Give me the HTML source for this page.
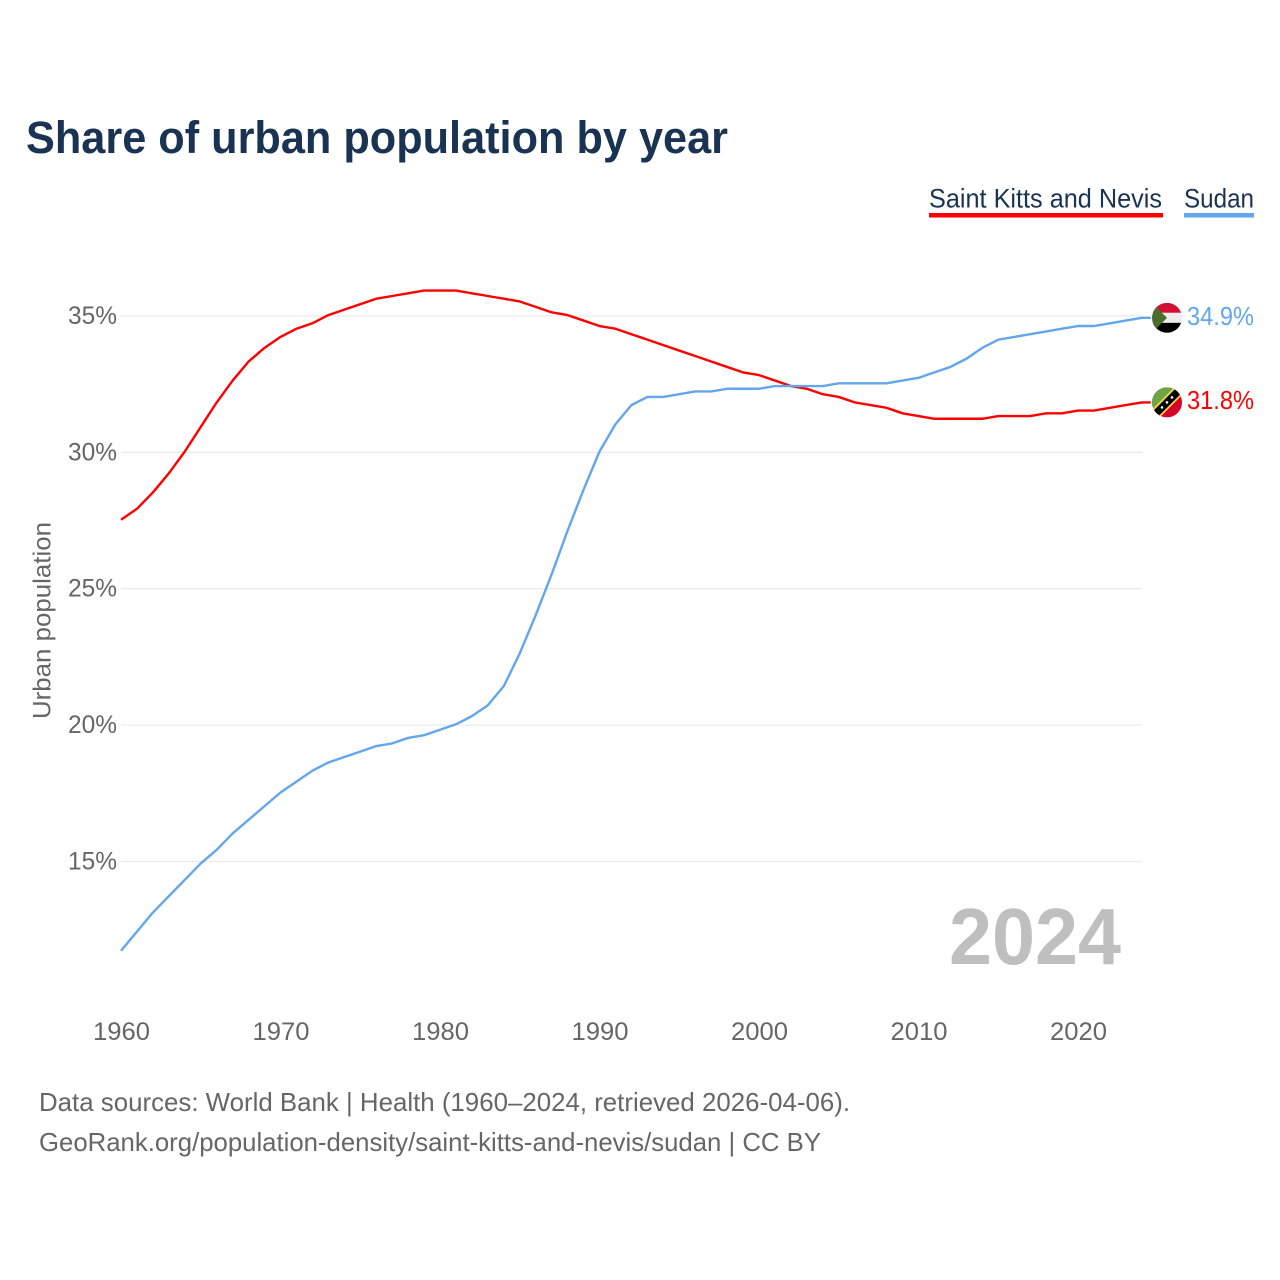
<!DOCTYPE html>
<html lang="en">
<head>
<meta charset="utf-8">
<title>Share of urban population by year</title>
<style>
html,body{margin:0;padding:0;background:#fff;}
svg{display:block;font-family:"Liberation Sans",sans-serif;}
</style>
</head>
<body>
<svg id="chart" xmlns="http://www.w3.org/2000/svg" width="1280" height="1280" viewBox="0 0 1280 1280">
  <defs>
    <clipPath id="flag-clip"><circle cx="0" cy="0" r="15"></circle></clipPath>
  </defs>
  <rect width="1280" height="1280" fill="#ffffff"></rect>
  <text x="26" y="153" font-size="45" font-weight="700" fill="#1a3353" textLength="702" lengthAdjust="spacingAndGlyphs">Share of urban population by year</text>

  <g>
    <g>
      <text x="929" y="207.5" font-size="26.5" fill="#1a3353" textLength="233" lengthAdjust="spacingAndGlyphs">Saint Kitts and Nevis</text>
      <rect x="929" y="213" width="234" height="4.5" fill="#ff0000"></rect>
    </g>
    <g>
      <text x="1184" y="207.5" font-size="26.5" fill="#1a3353" textLength="70" lengthAdjust="spacingAndGlyphs">Sudan</text>
      <rect x="1184" y="213" width="70" height="4.5" fill="#62a6ee"></rect>
    </g>
  </g>

  <g id="grid"></g>
  <g id="y-axis"></g>
  <g id="x-axis"></g>
  <text transform="translate(50.5,719) rotate(-90)" font-size="25" fill="#666666" textLength="197" lengthAdjust="spacingAndGlyphs">Urban population</text>

  <text x="949" y="964" font-size="80" font-weight="700" fill="#bfbfbf" textLength="172" lengthAdjust="spacingAndGlyphs">2024</text>

  <g id="series"></g>

  <g id="flag-sudan">
    <g clip-path="url(#flag-clip)">
      <rect x="-15" y="-15" width="30" height="10" fill="#d21034"></rect>
      <rect x="-15" y="-5" width="30" height="10" fill="#eeeeee"></rect>
      <rect x="-15" y="5" width="30" height="10" fill="#000000"></rect>
      <polygon points="-15,-15 -15,15 0,0" fill="#496e2d"></polygon>
    </g>
  </g>
  <g id="flag-kitts">
    <g clip-path="url(#flag-clip)">
      <rect x="-15" y="-15" width="30" height="30" fill="#d80027"></rect>
      <polygon points="-15,-15 15,-15 -15,15" fill="#6da544"></polygon>
      <line x1="-14" y1="14" x2="14" y2="-14" stroke="#ffda44" stroke-width="11"></line>
      <line x1="-14" y1="14" x2="14" y2="-14" stroke="#000000" stroke-width="7.5"></line>
      <circle cx="-5" cy="5" r="1.3" fill="#ffffff"></circle>
      <circle cx="0" cy="0" r="1.3" fill="#ffffff"></circle>
      <circle cx="5" cy="-5" r="1.3" fill="#ffffff"></circle>
    </g>
  </g>
  <g id="end-labels"></g>

  <g>
    <text x="39" y="1111" font-size="26" fill="#666666" textLength="811" lengthAdjust="spacingAndGlyphs">Data sources: World Bank | Health (1960–2024, retrieved 2026-04-06).</text>
    <text x="39" y="1151" font-size="26" fill="#666666" textLength="782" lengthAdjust="spacingAndGlyphs">GeoRank.org/population-density/saint-kitts-and-nevis/sudan | CC BY</text>
  </g>
</svg>
<script>
var years = [1960,1961,1962,1963,1964,1965,1966,1967,1968,1969,1970,1971,1972,1973,1974,1975,1976,1977,1978,1979,1980,1981,1982,1983,1984,1985,1986,1987,1988,1989,1990,1991,1992,1993,1994,1995,1996,1997,1998,1999,2000,2001,2002,2003,2004,2005,2006,2007,2008,2009,2010,2011,2012,2013,2014,2015,2016,2017,2018,2019,2020,2021,2022,2023,2024];
var saintKittsValues = [27.5,27.9,28.5,29.2,30.0,30.9,31.8,32.6,33.3,33.8,34.2,34.5,34.7,35.0,35.2,35.4,35.6,35.7,35.8,35.9,35.9,35.9,35.8,35.7,35.6,35.5,35.3,35.1,35.0,34.8,34.6,34.5,34.3,34.1,33.9,33.7,33.5,33.3,33.1,32.9,32.8,32.6,32.4,32.3,32.1,32.0,31.8,31.7,31.6,31.4,31.3,31.2,31.2,31.2,31.2,31.3,31.3,31.3,31.4,31.4,31.5,31.5,31.6,31.7,31.8];
var sudanValues = [11.7,12.4,13.1,13.7,14.3,14.9,15.4,16.0,16.5,17.0,17.5,17.9,18.3,18.6,18.8,19.0,19.2,19.3,19.5,19.6,19.8,20.0,20.3,20.7,21.4,22.6,24.0,25.5,27.1,28.6,30.0,31.0,31.7,32.0,32.0,32.1,32.2,32.2,32.3,32.3,32.3,32.4,32.4,32.4,32.4,32.5,32.5,32.5,32.5,32.6,32.7,32.9,33.1,33.4,33.8,34.1,34.2,34.3,34.4,34.5,34.6,34.6,34.7,34.8,34.9];
var yTicks = [15,20,25,30,35];
var xTicks = [1960,1970,1980,1990,2000,2010,2020];

var NS = 'http://www.w3.org/2000/svg';
function xScale(year){ return 121 + (year - 1960) * 15.95; }
function yScale(v){ return 861.5 - (v - 15) * 27.28; }
function markY(v){ return yScale(v) - 0.8; }

function makeText(parent, x, y, anchor, size, fill, str, len){
  var t = document.createElementNS(NS, 'text');
  t.setAttribute('x', x);
  t.setAttribute('y', y);
  t.setAttribute('text-anchor', anchor);
  t.setAttribute('font-size', size);
  t.setAttribute('fill', fill);
  t.setAttribute('textLength', len);
  t.setAttribute('lengthAdjust', 'spacingAndGlyphs');
  t.textContent = str;
  parent.appendChild(t);
  return t;
}

var grid = document.getElementById('grid');
var yAxis = document.getElementById('y-axis');
var xAxis = document.getElementById('x-axis');

yTicks.forEach(function(v){
  var l = document.createElementNS(NS, 'line');
  l.setAttribute('x1', xScale(1960));
  l.setAttribute('x2', xScale(2024));
  l.setAttribute('y1', yScale(v));
  l.setAttribute('y2', yScale(v));
  l.setAttribute('stroke', '#ebebeb');
  l.setAttribute('stroke-width', '1.3');
  
  
  grid.appendChild(l);
  var t = makeText(yAxis, 117, yScale(v) + 8, 'end', 25, '#666666', v + '%', 49);
  
  
});

xTicks.forEach(function(y){
  var t = makeText(xAxis, xScale(y) + 0.5, 1040, 'middle', 25, '#666666', String(y), 57);
  
  
});

function drawSeries(values, color, seriesName, labelY){
  var last = values[values.length - 1];
  var g = document.getElementById('series');
  var pts = values.map(function(v, i){
    return xScale(years[i]).toFixed(2) + ',' + markY(v).toFixed(2);
  });
  pts.push((xScale(years[years.length - 1]) + 9).toFixed(2) + ',' + markY(last).toFixed(2));
  var p = document.createElementNS(NS, 'polyline');
  p.setAttribute('points', pts.join(' '));
  p.setAttribute('fill', 'none');
  p.setAttribute('stroke', color);
  p.setAttribute('stroke-width', '2.4');
  p.setAttribute('stroke-linejoin', 'round');
  
  
  g.appendChild(p);
  var endLabels = document.getElementById('end-labels');
  var t = makeText(endLabels, 1254, markY(last) + labelY, 'end', 26, color, last.toFixed(1) + '%', 67);
  
  
}

drawSeries(saintKittsValues, '#ff0000', 'line-saint-kitts-and-nevis', 6.5);
drawSeries(sudanValues, '#62a6ee', 'line-sudan', 7);

document.getElementById('flag-sudan').setAttribute('transform', 'translate(1167,' + markY(sudanValues[sudanValues.length - 1]) + ')');
document.getElementById('flag-kitts').setAttribute('transform', 'translate(1167,' + markY(saintKittsValues[saintKittsValues.length - 1]) + ')');
</script>
</body>
</html>
